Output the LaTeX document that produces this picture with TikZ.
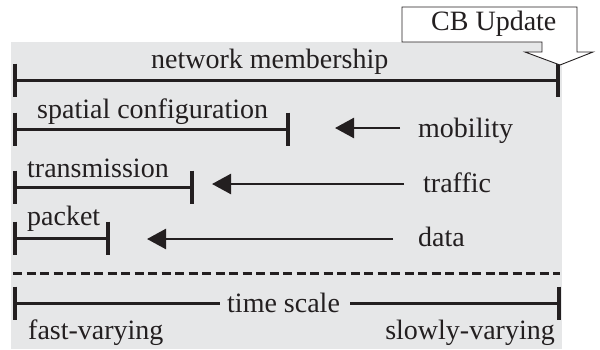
\documentclass[tikz,border=0pt]{standalone}
\usepackage{fontspec}
\setmainfont{Liberation Serif}
\usetikzlibrary{arrows.meta}
\definecolor{bg}{HTML}{E6E7E8}
\definecolor{ink}{HTML}{231F20}
\tikzset{
  lbl/.style={inner sep=0pt, font=\fontsize{28}{33}\selectfont, text=ink},
  bar/.style={draw=ink, line width=3pt},
  tickmark/.style={draw=ink, line width=4pt},
  pointer/.style={draw=ink, line width=2.5pt, -{Triangle[length=19pt,width=20pt]}},
  dashline/.style={draw=ink, line width=3pt, dash pattern=on 9pt off 4.5pt},
  callout/.style={draw=ink, fill=white, line width=0.9pt, line join=miter},
}
\begin{document}
\begin{tikzpicture}[x=1pt,y=-1pt]
\useasboundingbox (0,0) rectangle (600,349);
\fill[bg] (11,42) rectangle (562,349);

% bars
\coordinate (m1) at (15,80);   \coordinate (m2) at (558,80);
\coordinate (s1) at (15,129);  \coordinate (s2) at (288,129);
\coordinate (t1) at (15,187);  \coordinate (t2) at (192,187);
\coordinate (p1) at (15,238);  \coordinate (p2) at (108,238);
\coordinate (ts1) at (15,303); \coordinate (ts2) at (559,303);

\draw[bar] (m1) -- (m2);
\draw[bar] (s1) -- (s2);
\draw[bar] (t1) -- (t2);
\draw[bar] (p1) -- (p2);
\foreach \c in {m1,m2,s1,s2,t1,t2,p1,p2,ts1,ts2}
  \draw[tickmark] (\c) ++(0,-16.5) -- ++(0,33);

% labels
\node[lbl, anchor=base west] (nm) at (151,68) {network membership};
\node[lbl, anchor=base west] (sc) at (37,118) {spatial configuration};
\node[lbl, anchor=base west] (tr) at (27,177) {transmission};
\node[lbl, anchor=base west] (pk) at (27,225) {packet};
\node[lbl, anchor=base west] (mob) at (418,137) {mobility};
\node[lbl, anchor=base west] (trf) at (423,192) {traffic};
\node[lbl, anchor=base west] (dat) at (418,246) {data};

% arrows
\coordinate (mobT) at (400,128); \coordinate (mobH) at (335,128);
\coordinate (trfT) at (404,184); \coordinate (trfH) at (212,184);
\coordinate (datT) at (393,239); \coordinate (datH) at (147,239);
\draw[pointer] (mobT) -- (mobH);
\draw[pointer] (trfT) -- (trfH);
\draw[pointer] (datT) -- (datH);

% dashed separator
\coordinate (d1) at (13,273); \coordinate (d2) at (560,273);
\draw[dashline] (d1) -- (d2);

% time scale
\node[lbl, anchor=base west] (tsl) at (227,312) {time scale};
\coordinate (tsa) at (220,303); \coordinate (tsb) at (350,303);
\draw[bar] (ts1) -- (tsa);
\draw[bar] (tsb) -- (ts2);
\node[lbl, anchor=base west] (fv) at (28,339) {fast-varying};
\node[lbl, anchor=base east] (sv) at (555,339) {slowly-varying};

% CB Update callout
\draw[callout] (402,7) -- (577,7) -- (577,52) -- (593,52) -- (560,65)
  -- (525,52) -- (542,52) -- (542,42) -- (402,42) -- cycle;
\node[lbl, anchor=base west] (cb) at (431,30) {CB Update};
\end{tikzpicture}
\end{document}
